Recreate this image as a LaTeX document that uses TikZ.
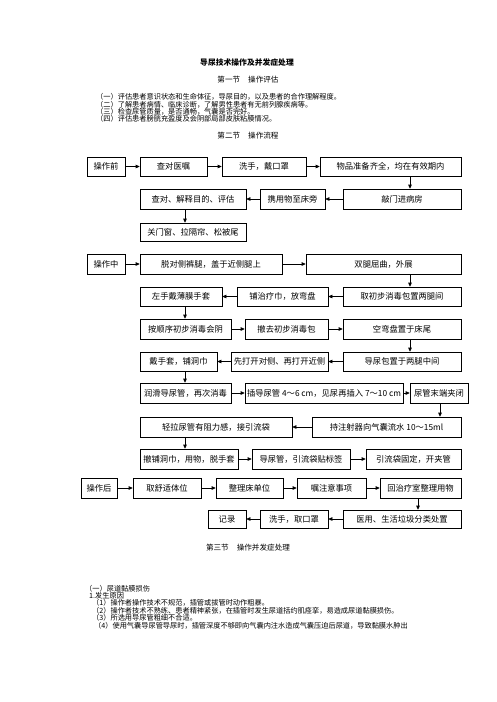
\documentclass[tikz,border=0pt]{standalone}
\usepackage{fontspec}
\setmainfont{Noto Sans CJK SC}
\usetikzlibrary{arrows.meta,calc}
\tikzset{
  box/.style={draw,line width=0.7pt,inner sep=0pt,font=\fontsize{8.3}{10}\selectfont},
  arr/.style={line width=0.7pt,-{Triangle[length=4pt,width=3.6pt]}},
  body/.style={anchor=west,inner sep=0pt,font=\fontsize{7.2}{9}\selectfont},
  head/.style={inner sep=0pt,font=\fontsize{7.6}{9}\selectfont}
}
\newcommand\bx[6]{\node[box,minimum width={(#4-#2)*1pt},minimum height={(#5-#3)*1pt}] (#1) at ({(#2+#4)/2},{(#3+#5)/2}) {#6};}
\newcommand\hr[2]{\draw[arr] (#1.east) -- (#2.west);}
\newcommand\hl[2]{\draw[arr] (#1.west) -- (#2.east);}
\newcommand\vd[3]{\draw[arr] let \p1=(#1.south), \p2=(#2.north) in (#3pt,\y1) -- (#3pt,\y2);}
\begin{document}
\begin{tikzpicture}[x=1pt,y=-1pt]
\useasboundingbox[fill=white] (0,0) rectangle (496,702);
% headings
\node[head,font=\fontsize{7.8}{9}\selectfont\bfseries] (title) at (247,63) {导尿技术操作及并发症处理};
\node[head] (s1) at (248,80) {第一节\hspace{8pt}操作评估};
\node[body] (p1) at (96,97) {（一）评估患者意识状态和生命体征，导尿目的，以及患者的合作理解程度。};
\node[body] (p2) at (96,104.3) {（二）了解患者病情、临床诊断，了解男性患者有无前列腺疾病等。};
\node[body] (p3) at (96,111.6) {（三）检查尿管质量，是否通畅，气囊是否完好。};
\node[body] (p4) at (96,119) {（四）评估患者膀胱充盈度及会阴部局部皮肤粘膜情况。};
\node[head] (s2) at (248,136) {第二节\hspace{8pt}操作流程};
% before
\bx{A1}{87}{157}{125}{176}{操作前}
\bx{A2}{140}{157}{207}{176}{查对医嘱}
\bx{A3}{222}{157}{306}{176}{洗手，戴口罩}
\bx{A4}{320}{157}{461}{176}{物品准备齐全，均在有效期内}
\bx{A5}{343}{189}{461}{209}{敲门进病房}
\bx{A6}{260}{189}{325}{209}{携用物至床旁}
\bx{A7}{140}{189}{246}{209}{查对、解释目的、评估}
\bx{A8}{140}{223}{246}{241}{关门窗、拉隔帘、松被尾}
\hr{A1}{A2}\hr{A2}{A3}\hr{A3}{A4}
\vd{A4}{A5}{410}
\hl{A5}{A6}\hl{A6}{A7}
\vd{A7}{A8}{185}
% during
\bx{B1}{87}{254}{125}{274}{操作中}
\bx{B2}{140}{254}{282}{274}{脱对侧裤腿，盖于近侧腿上}
\bx{B3}{306}{254}{461}{274}{双腿屈曲，外展}
\bx{B4}{343}{287}{461}{306}{取初步消毒包置两腿间}
\bx{B5}{237}{287}{328}{306}{铺治疗巾，放弯盘}
\bx{B6}{140}{287}{222}{306}{左手戴薄膜手套}
\bx{B7}{140}{319}{231}{339}{按顺序初步消毒会阴}
\bx{B8}{245}{319}{328}{339}{撤去初步消毒包}
\bx{B9}{343}{319}{461}{339}{空弯盘置于床尾}
\bx{B10}{343}{352}{461}{371}{导尿包置于两腿中间}
\bx{B11}{231}{352}{328}{371}{先打开对侧、再打开近侧}
\bx{B12}{140}{352}{217}{371}{戴手套，铺洞巾}
\bx{B13}{140}{383}{231}{403}{润滑导尿管，再次消毒}
\bx{B14}{245}{383}{403}{403}{插导尿管 4～6 cm，见尿再插入 7～10 cm}
\bx{B15}{410}{383}{468}{403}{尿管末端夹闭}
\bx{B16}{312}{417}{461}{437}{持注射器向气囊流水 10～15ml}
\bx{B17}{140}{417}{292}{437}{轻拉尿管有阻力感，接引流袋}
\bx{B18}{140}{449}{238}{469}{撤铺洞巾，用物，脱手套}
\bx{B19}{252}{449}{350}{469}{导尿管，引流袋贴标签}
\bx{B20}{366}{449}{461}{469}{引流袋固定，开夹管}
\hr{B1}{B2}\hr{B2}{B3}
\vd{B3}{B4}{410}
\hl{B4}{B5}\hl{B5}{B6}
\vd{B6}{B7}{185}
\hr{B7}{B8}\hr{B8}{B9}
\vd{B9}{B10}{410}
\hl{B10}{B11}\hl{B11}{B12}
\vd{B12}{B13}{185}
\hr{B13}{B14}\hr{B14}{B15}
\vd{B15}{B16}{440}
\hl{B16}{B17}
\vd{B17}{B18}{185}
\hr{B18}{B19}\hr{B19}{B20}
% after
\bx{C1}{81}{478}{117}{498}{操作后}
\bx{C2}{133}{478}{201}{498}{取舒适体位}
\bx{C3}{216}{478}{283}{498}{整理床单位}
\bx{C4}{297}{478}{366}{498}{嘱注意事项}
\bx{C5}{380}{478}{461}{498}{回治疗室整理用物}
\bx{C6}{343}{510}{461}{528}{医用、生活垃圾分类处置}
\bx{C7}{260}{510}{328}{528}{洗手，取口罩}
\bx{C8}{208}{510}{246}{528}{记录}
\hr{C1}{C2}\hr{C2}{C3}\hr{C3}{C4}\hr{C4}{C5}
\vd{C5}{C6}{418}
\hl{C6}{C7}\hl{C7}{C8}
% section 3
\node[head] (s3) at (248,548) {第三节\hspace{8pt}操作并发症处理};
\node[body] (q1) at (85,589) {（一）尿道黏膜损伤};
\node[body] (q2) at (89,596) {1.发生原因};
\node[body] (q3) at (92,603) {（1）操作者操作技术不规范，插管或拔管时动作粗暴。};
\node[body] (q4) at (92,610.5) {（2）操作者技术不熟练、患者精神紧张，在插管时发生尿道括约肌痉挛，易造成尿道黏膜损伤。};
\node[body] (q5) at (92,618) {（3）所选用导尿管粗细不合适。};
\node[body] (q6) at (94,626) {（4）使用气囊导尿管导尿时，插管深度不够即向气囊内注水造成气囊压迫后尿道，导致黏膜水肿出};
\end{tikzpicture}
\end{document}
